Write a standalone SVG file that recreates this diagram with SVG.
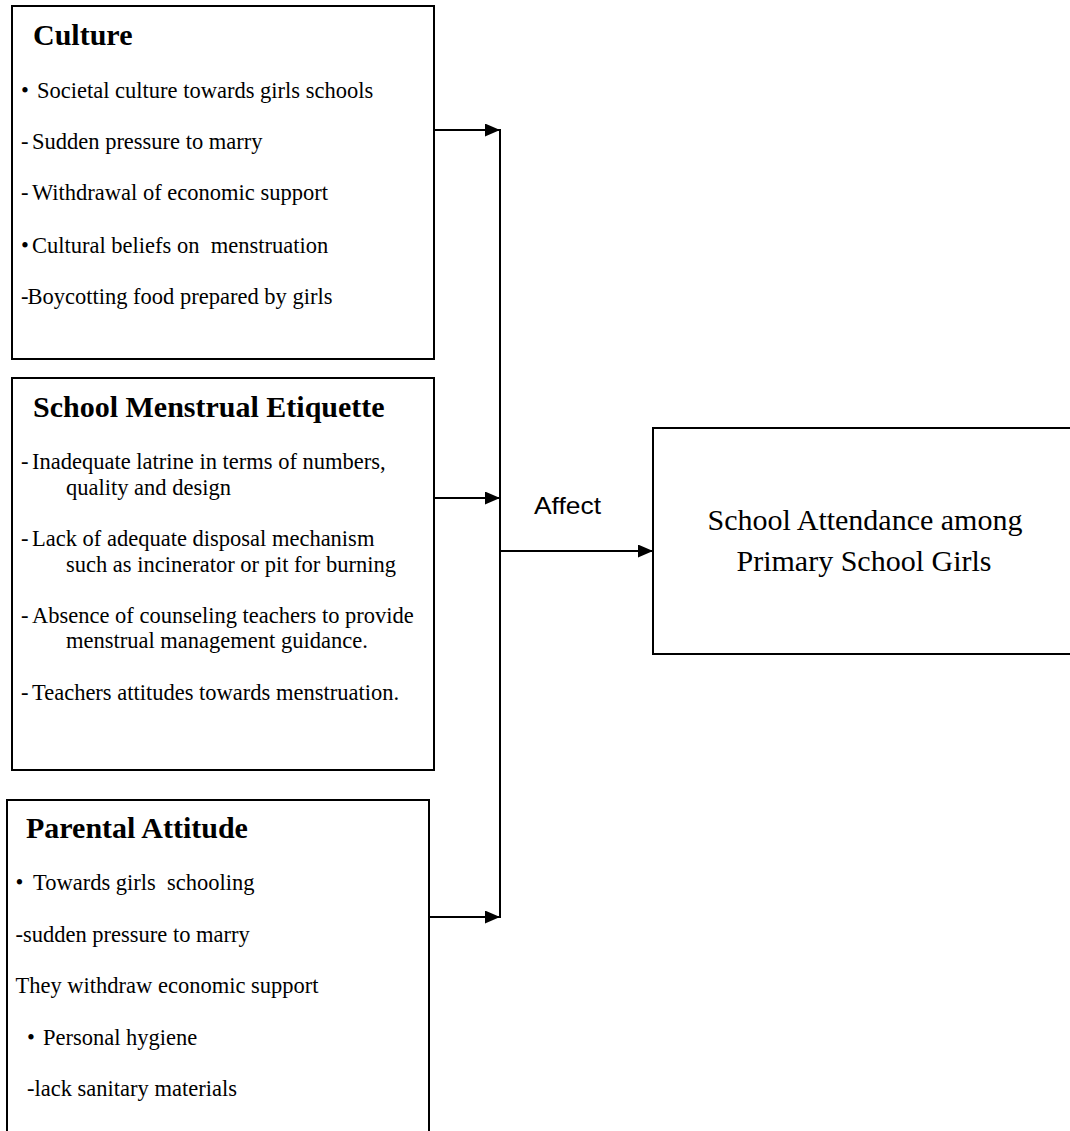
<svg xmlns="http://www.w3.org/2000/svg" width="1070" height="1131" viewBox="0 0 1070 1131">
<defs>
<marker id="arr" markerWidth="15" markerHeight="13" refX="15" refY="6.5" orient="auto" markerUnits="userSpaceOnUse">
<path d="M0,0 L15,6.5 L0,13 Z" fill="#000"/>
</marker>
</defs>
<style>
.box{fill:#fff;stroke:#000;stroke-width:2}
.h{font-family:"Liberation Serif","Times New Roman",serif;font-weight:bold;font-size:30px;fill:#000}
.t{font-family:"Liberation Serif","Times New Roman",serif;font-size:22.5px;fill:#000}
.big{font-family:"Liberation Serif","Times New Roman",serif;font-size:30px;fill:#000;text-anchor:middle}
.lbl{font-family:"Liberation Sans",Arial,sans-serif;font-size:24px;fill:#000}
.ln{fill:none;stroke:#000;stroke-width:2}
</style>
<rect width="1070" height="1131" fill="#fff"/>
<g id="culture">
<rect class="box" x="12" y="6" width="422" height="353"/>
<text class="h" x="33" y="45">Culture</text>
<text class="t" x="21" y="98">•</text><text class="t" x="37" y="98">Societal culture towards girls schools</text>
<text class="t" x="21" y="149">-</text><text class="t" x="32" y="149">Sudden pressure to marry</text>
<text class="t" x="21" y="200">-</text><text class="t" x="32" y="200">Withdrawal of economic support</text>
<text class="t" x="21" y="253">•</text><text class="t" x="32" y="253" xml:space="preserve">Cultural beliefs on  menstruation</text>
<text class="t" x="21" y="304">-</text><text class="t" x="27.5" y="304">Boycotting food prepared by girls</text>
</g>
<g id="etiquette">
<rect class="box" x="12" y="378" width="422" height="392"/>
<text class="h" x="33" y="417">School Menstrual Etiquette</text>
<text class="t" x="21" y="469">-</text><text class="t" x="32" y="469">Inadequate latrine in terms of numbers,</text>
<text class="t" x="66" y="495">quality and design</text>
<text class="t" x="21" y="546">-</text><text class="t" x="32" y="546">Lack of adequate disposal mechanism</text>
<text class="t" x="66" y="572">such as incinerator or pit for burning</text>
<text class="t" x="21" y="623">-</text><text class="t" x="32" y="623">Absence of counseling teachers to provide</text>
<text class="t" x="66" y="648">menstrual management guidance.</text>
<text class="t" x="21" y="700">-</text><text class="t" x="32" y="700">Teachers attitudes towards menstruation.</text>
</g>
<g id="parental">
<rect class="box" x="7" y="800" width="422" height="345"/>
<text class="h" x="26" y="838">Parental Attitude</text>
<text class="t" x="15.5" y="890">•</text><text class="t" x="33" y="890" xml:space="preserve">Towards girls  schooling</text>
<text class="t" x="15.5" y="942">-sudden pressure to marry</text>
<text class="t" x="15.5" y="993">They withdraw economic support</text>
<text class="t" x="27" y="1045">•</text><text class="t" x="43" y="1045">Personal hygiene</text>
<text class="t" x="27" y="1096">-lack sanitary materials</text>
</g>
<g id="attendance">
<rect class="box" x="653" y="428" width="430" height="226"/>
<text class="big" x="865" y="530">School Attendance among</text>
<text class="big" x="864" y="571">Primary School Girls</text>
</g>
<g id="connectors">
<line class="ln" x1="434" y1="130" x2="500" y2="130" marker-end="url(#arr)"/>
<line class="ln" x1="434" y1="498" x2="500" y2="498" marker-end="url(#arr)"/>
<line class="ln" x1="429" y1="917" x2="500" y2="917" marker-end="url(#arr)"/>
<line class="ln" x1="500" y1="129" x2="500" y2="918"/>
<line class="ln" x1="500" y1="551" x2="653" y2="551" marker-end="url(#arr)"/>
<text class="lbl" x="534" y="514" textLength="67" lengthAdjust="spacingAndGlyphs">Affect</text>
</g>
</svg>
